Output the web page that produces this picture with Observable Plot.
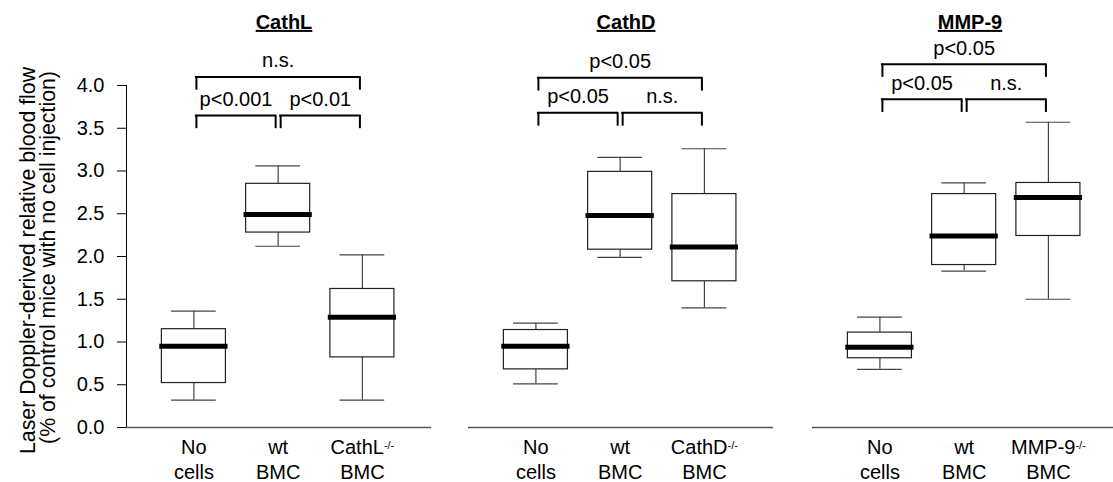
<!DOCTYPE html>
<html>
<head>
<meta charset="utf-8">
<script src="https://cdn.jsdelivr.net/npm/d3@7"></script>
<script src="https://cdn.jsdelivr.net/npm/@observablehq/plot@0.6"></script>
<style>
  body { margin: 0; background: #fff; }
  #chart { position: relative; width: 1113px; height: 482px; overflow: hidden; background: #fff; }
  #chart svg { position: absolute; top: 0; overflow: visible; }
</style>
</head>
<body>
<div id="chart"></div>
<script>
// Panels and their three groups (first and second label line)
const panelTitles = ["CathL", "CathD", "MMP-9"];
const groupTop = [["No", "wt", "CathL-/-"], ["No", "wt", "CathD-/-"], ["No", "wt", "MMP-9-/-"]];
const groupBottom = ["cells", "BMC", "BMC"];

// Box plot statistics per panel, one value per group
const whiskerLow  = [[0.32, 2.12, 0.32], [0.51, 1.99, 1.40], [0.68, 1.83, 1.50]];
const quartile1   = [[0.52, 2.28, 0.82], [0.68, 2.08, 1.71], [0.81, 1.90, 2.24]];
const medians     = [[0.95, 2.49, 1.29], [0.95, 2.48, 2.11], [0.94, 2.24, 2.69]];
const quartile3   = [[1.15, 2.85, 1.62], [1.14, 2.99, 2.73], [1.11, 2.73, 2.86]];
const whiskerHigh = [[1.36, 3.06, 2.02], [1.22, 3.16, 3.26], [1.29, 2.86, 3.57]];

// Pairwise comparisons: group indices, test results and bracket heights (data units)
const compareFrom = [0, 1, 0];
const compareTo = [1, 2, 2];
const compareLabels = [["p<0.001", "p<0.01", "n.s."], ["p<0.05", "n.s.", "p<0.05"], ["p<0.05", "n.s.", "p<0.05"]];
const bracketHeights = [[3.65, 3.65, 4.10], [3.68, 3.68, 4.09], [3.84, 3.84, 4.25]];

const yTitle = ["Laser Doppler-derived relative blood flow", "(% of control mice with no cell injection)"];

// Panel placement on the page
const panelLeft = [0, 458, 802];
const panelWidth = [440, 325, 325];
const panelMarginLeft = [126, 10, 10];
const panelMarginRight = [9, 10, 10];

const FONT = "'Liberation Sans', Arial, Helvetica, sans-serif";
const boxHalf = 0.38, capHalf = 0.265, medHalf = 0.405, legDepth = 0.155;
const container = document.getElementById("chart");

function drawPanel(p) {
  const boxes = d3.range(3).map(i => ({
    i,
    low: whiskerLow[p][i], q1: quartile1[p][i], med: medians[p][i],
    q3: quartile3[p][i], high: whiskerHigh[p][i],
    top: groupTop[p][i], bottom: groupBottom[i]
  }));
  const brackets = d3.range(3).map(k => ({
    from: compareFrom[k], to: compareTo[k],
    level: bracketHeights[p][k], label: compareLabels[p][k]
  }));

  const marks = [
    Plot.ruleY([0], {stroke: "#555", strokeWidth: 1.5}),
    // whiskers and caps
    Plot.ruleX(boxes, {x: "i", y1: "low", y2: "q1", stroke: "#444", strokeWidth: 1.2}),
    Plot.ruleX(boxes, {x: "i", y1: "q3", y2: "high", stroke: "#444", strokeWidth: 1.2}),
    Plot.ruleY(boxes, {y: "low", x1: d => d.i - capHalf, x2: d => d.i + capHalf, stroke: "#444", strokeWidth: 1.2}),
    Plot.ruleY(boxes, {y: "high", x1: d => d.i - capHalf, x2: d => d.i + capHalf, stroke: "#444", strokeWidth: 1.2}),
    // interquartile box and median
    Plot.rect(boxes, {x1: d => d.i - boxHalf, x2: d => d.i + boxHalf, y1: "q1", y2: "q3", fill: "white", stroke: "#222", strokeWidth: 1.2}),
    Plot.ruleY(boxes, {y: "med", x1: d => d.i - medHalf, x2: d => d.i + medHalf, stroke: "black", strokeWidth: 5}),
    // significance brackets
    Plot.ruleX(brackets, {x: "from", y1: "level", y2: d => d.level - legDepth, dx: 2.5, stroke: "black", strokeWidth: 2}),
    Plot.ruleX(brackets, {x: "to", y1: "level", y2: d => d.level - legDepth, dx: -2.5, stroke: "black", strokeWidth: 2}),
    Plot.ruleY(brackets, {y: "level", x1: "from", x2: "to", insetLeft: 1.5, insetRight: 1.5, stroke: "black", strokeWidth: 2}),
    Plot.text(brackets, {x: d => (d.from + d.to) / 2, y: "level", text: "label", lineAnchor: "middle", dy: -16}),
    // group labels under the baseline
    Plot.text(boxes, {x: "i", text: "top", frameAnchor: "bottom", lineAnchor: "middle", dy: 20}),
    Plot.text(boxes, {x: "i", text: "bottom", frameAnchor: "bottom", lineAnchor: "middle", dy: 45}),
    // panel title
    Plot.text([panelTitles[p]], {text: d => d, frameAnchor: "top", lineAnchor: "middle", dx: 5, dy: -63, fontWeight: "bold"})
  ];

  if (p === 0) {
    marks.push(
      Plot.text([yTitle[0]], {text: d => d, frameAnchor: "left", textAnchor: "middle", lineAnchor: "middle", rotate: -90, dx: -98.5, dy: 4, fontSize: 21.3}),
      Plot.text([yTitle[1]], {text: d => d, frameAnchor: "left", textAnchor: "middle", lineAnchor: "middle", rotate: -90, dx: -78, dy: 1, fontSize: 21.3})
    );
  }

  const svg = Plot.plot({
    width: panelWidth[p],
    height: 482,
    marginLeft: panelMarginLeft[p],
    marginRight: panelMarginRight[p],
    marginTop: 85,
    marginBottom: 55,
    style: {fontFamily: FONT, fontSize: "20px", color: "black", background: "white", overflow: "visible"},
    x: {domain: [-0.80, 2.82], axis: null},
    y: p === 0
      ? {domain: [0, 4], ticks: 8, tickFormat: ".1f", tickSize: 9, tickPadding: 13, line: true, label: null}
      : {domain: [0, 4], axis: null},
    marks
  });

  svg.style.left = panelLeft[p] + "px";

  // underline the panel title
  d3.select(svg).selectAll("text")
    .filter(function () { return this.textContent === panelTitles[p]; })
    .style("text-decoration", "underline");

  // knockout genotype as superscript
  d3.select(svg).selectAll("text, tspan")
    .filter(function () { return this.childElementCount === 0 && /-\/-$/.test(this.textContent); })
    .each(function () {
      const s = this.textContent;
      this.textContent = s.slice(0, -3);
      d3.select(this).append("tspan")
        .attr("font-size", 11)
        .attr("dy", -5)
        .text("-/-");
    });

  container.append(svg);
}

[0, 1, 2].forEach(drawPanel);
</script>
</body>
</html>
